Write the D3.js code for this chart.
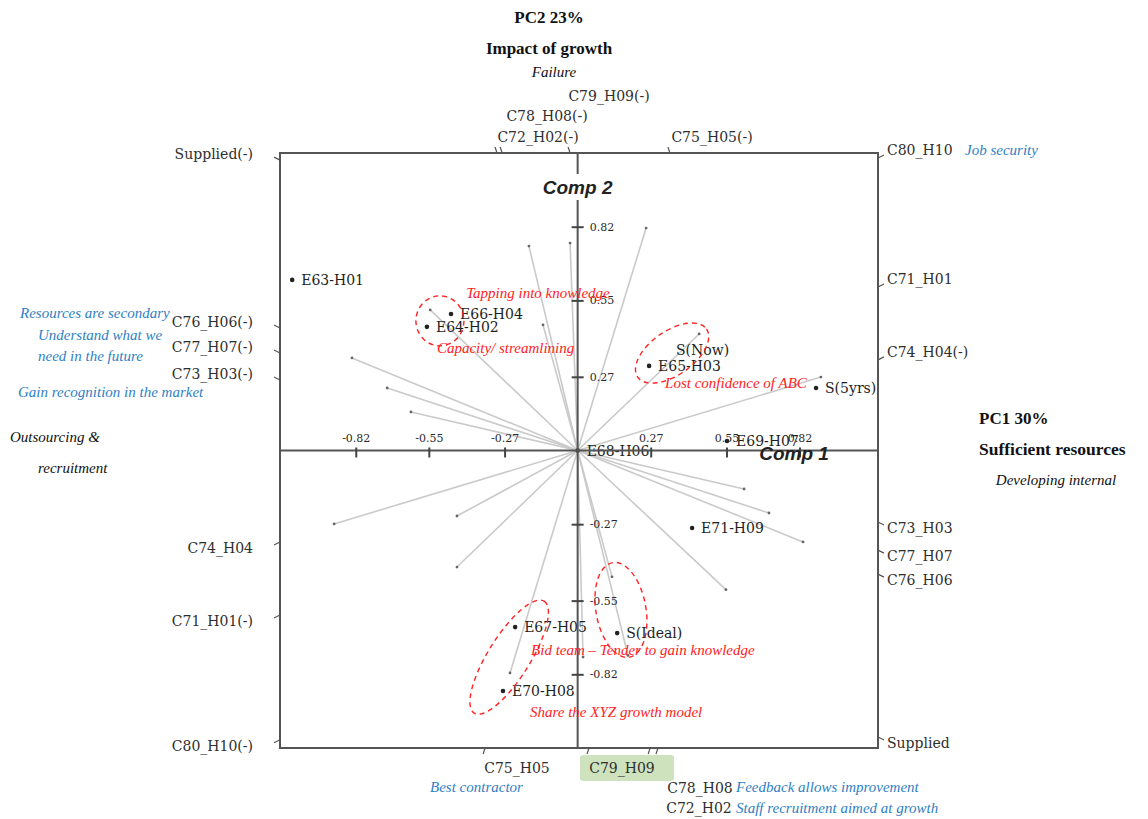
<!DOCTYPE html>
<html>
<head>
<meta charset="utf-8">
<script src="https://cdn.jsdelivr.net/npm/d3@7"></script>
<style>
  body { margin: 0; background: #fff; }
  svg { display: block; }
</style>
</head>
<body>
<div id="chart"></div>
<script>
// scores (dark dots with labels)
const scoreNames = ['E63-H01', 'E66-H04', 'E64-H02', 'S(Now)', 'E65-H03', 'S(5yrs)',
                    'E68-H06', 'E69-H07', 'E71-H09', 'E67-H05', 'S(Ideal)', 'E70-H08'];
const scoreX = [-1.055, -0.468, -0.557, 0.330, 0.264, 0.881, 0.0, 0.552, 0.423, -0.231, 0.146, -0.276];
const scoreY = [0.625, 0.500, 0.453, 0.328, 0.310, 0.229, 0.0, 0.035, -0.284, -0.647, -0.669, -0.881];

// loading vectors (grey rays from the origin)
const loadX = [-0.834, -0.704, -0.616, -0.545, -0.128, -0.180, -0.028,
               0.253, 0.449, 0.899,
               0.615, 0.707, 0.833, 0.548, 0.127, 0.020, 0.186,
               -0.900, -0.446, -0.446, -0.250];
const loadY = [0.339, 0.229, 0.141, 0.515, 0.460, 0.749, 0.760,
               0.815, 0.427, 0.269,
               -0.141, -0.229, -0.335, -0.510, -0.463, -0.757, -0.751,
               -0.269, -0.240, -0.427, -0.815];

// axis ticks
const tickValues = [-0.82, -0.55, -0.27, 0.27, 0.55, 0.82];

// variables marked on the frame edges (value where they meet the edge)
const leftVars = ['Supplied(-)', 'C76_H06(-)', 'C77_H07(-)', 'C73_H03(-)', 'C74_H04', 'C71_H01(-)', 'C80_H10(-)'];
const leftAt = [1.064, 0.449, 0.357, 0.258, -0.335, -0.603, -1.06];
const rightVars = ['C80_H10', 'C71_H01', 'C74_H04(-)', 'C73_H03', 'C77_H07', 'C76_H06', 'Supplied'];
const rightAt = [1.072, 0.599, 0.332, -0.262, -0.365, -0.453, -1.05];
const topVars = ['C72_H02(-)', 'C78_H08(-)', 'C79_H09(-)', 'C75_H05(-)'];
const topAt = [-0.298, -0.279, -0.028, 0.341];
const bottomVars = ['C75_H05', 'C79_H09', 'C78_H08', 'C72_H02'];
const bottomAt = [-0.342, 0.042, 0.268, 0.297];

// red cluster notes
const noteTexts = ['Tapping into knowledge', 'Capacity/ streamlining', 'Lost confidence of ABC',
                   'Bid team \u2013 Tender to gain knowledge', 'Share the XYZ growth model'];
const noteX = [-0.412, -0.520, 0.323, -0.172, -0.176];
const noteY = [0.577, 0.376, 0.247, -0.731, -0.958];

// dashed cluster ellipses: centre in data units
const clusterX = [-0.509, 0.349, 0.160, -0.253];
const clusterY = [0.475, 0.357, -0.584, -0.757];

// ---- layout ----
const width = 1148, height = 819;
const svg = d3.select('#chart').append('svg')
  .attr('width', width)
  .attr('height', height);

const x = d3.scaleLinear().domain([-1.1, 1.11]).range([280, 878]);
const y = d3.scaleLinear().domain([-1.09, 1.09]).range([748, 153]);

const serif = 'DejaVu Serif, serif';
const garamond = 'Liberation Serif, Times New Roman, serif';
const blue = '#2f7fc4';
const red = '#f22';
const fmt = d => d.toFixed(2);

// loadings
const rays = svg.append('g').classed('loadings', true);
rays.selectAll('line')
  .data(loadX.map((d, i) => ({x: d, y: loadY[i]})))
  .enter()
  .append('line')
  .attr('x1', x(0)).attr('y1', y(0))
  .attr('x2', d => x(d.x)).attr('y2', d => y(d.y))
  .style('stroke', '#cacaca')
  .style('stroke-width', 1.6);
rays.selectAll('circle')
  .data(loadX.map((d, i) => ({x: d, y: loadY[i]})))
  .enter()
  .append('circle')
  .attr('cx', d => x(d.x)).attr('cy', d => y(d.y))
  .attr('r', 1.4)
  .style('fill', '#666');

// scores
const scores = scoreNames.map((n, i) => ({name: n, x: scoreX[i], y: scoreY[i]}));
const sg = svg.append('g').classed('scores', true);
sg.selectAll('circle')
  .data(scores.filter(d => d.name !== 'S(Now)'))
  .enter()
  .append('circle')
  .attr('cx', d => x(d.x)).attr('cy', d => y(d.y))
  .attr('r', 2.3)
  .style('fill', '#222');
sg.selectAll('text')
  .data(scores)
  .enter()
  .append('text')
  .attr('x', d => x(d.x) + 9)
  .attr('y', d => y(d.y) + (d.name === 'S(Now)' ? -11 : 0))
  .attr('dominant-baseline', 'central')
  .style('font-family', serif)
  .style('font-size', '14px')
  .style('fill', '#1e1e1e')
  .text(d => d.name);

// frame
svg.append('rect')
  .attr('x', x(-1.1)).attr('y', y(1.09))
  .attr('width', x(1.11) - x(-1.1)).attr('height', y(-1.09) - y(1.09))
  .style('fill', 'none')
  .style('stroke', '#555')
  .style('stroke-width', 2);

// axes through the origin
svg.append('line')
  .attr('x1', x(-1.1)).attr('x2', x(1.11)).attr('y1', y(0)).attr('y2', y(0))
  .style('stroke', '#555').style('stroke-width', 2);
svg.append('line')
  .attr('x1', x(0)).attr('x2', x(0)).attr('y1', y(1.09)).attr('y2', y(-1.09))
  .style('stroke', '#555').style('stroke-width', 2);

const xAxis = svg.append('g')
  .attr('transform', `translate(0, ${y(0)})`)
  .call(d3.axisBottom(x).tickValues(tickValues).tickSize(7).tickFormat(fmt));
xAxis.select('.domain').remove();
xAxis.selectAll('.tick line').attr('y1', -3).style('stroke', '#444').style('stroke-width', 2);
xAxis.selectAll('.tick text')
  .attr('y', -9).attr('dy', 0)
  .style('font-family', serif).style('font-size', '11px').style('fill', '#2a2a2a');

const yAxis = svg.append('g')
  .attr('transform', `translate(${x(0)}, 0)`)
  .call(d3.axisRight(y).tickValues(tickValues).tickSize(6).tickFormat(fmt));
yAxis.select('.domain').remove();
yAxis.selectAll('.tick line').attr('x1', -6).style('stroke', '#444').style('stroke-width', 2);
yAxis.selectAll('.tick text')
  .attr('x', 12)
  .style('font-family', serif).style('font-size', '11px').style('fill', '#2a2a2a');

// axis titles
svg.append('rect')
  .attr('x', x(0) - 38).attr('y', 174).attr('width', 76).attr('height', 26)
  .style('fill', '#fff');
svg.append('text')
  .attr('x', x(0)).attr('y', 187)
  .attr('text-anchor', 'middle').attr('dominant-baseline', 'central')
  .style('font-family', 'Liberation Sans, Arial, sans-serif')
  .style('font-weight', 'bold').style('font-style', 'italic')
  .style('font-size', '19px').style('fill', '#222')
  .text('Comp 2');
svg.append('text')
  .attr('x', x(0.80)).attr('y', y(0) + 3)
  .attr('text-anchor', 'middle').attr('dominant-baseline', 'central')
  .style('font-family', 'Liberation Sans, Arial, sans-serif')
  .style('font-weight', 'bold').style('font-style', 'italic')
  .style('font-size', '19px').style('fill', '#222')
  .text('Comp 1');

// frame edge variables
const edge = svg.append('g').classed('edge-vars', true)
  .style('font-family', serif).style('font-size', '14px').style('fill', '#2e2e2e');
const tickStyle = s => s.style('stroke', '#555').style('stroke-width', 1.2);

leftVars.forEach((name, i) => {
  const ty = y(leftAt[i]);
  edge.append('line')
    .attr('x1', x(-1.1)).attr('y1', ty).attr('x2', x(-1.1) - 6).attr('y2', ty + (leftAt[i] > 0 ? -3 : 3))
    .call(tickStyle);
  edge.append('text')
    .attr('x', 253).attr('y', ty + (leftAt[i] > 0 ? -6 : 6))
    .attr('text-anchor', 'end').attr('dominant-baseline', 'central')
    .text(name);
});

rightVars.forEach((name, i) => {
  const ty = y(rightAt[i]);
  edge.append('line')
    .attr('x1', x(1.11)).attr('y1', ty).attr('x2', x(1.11) + 6).attr('y2', ty + (rightAt[i] > 0 ? -3 : 3))
    .call(tickStyle);
  edge.append('text')
    .attr('x', 887).attr('y', ty + (rightAt[i] > 0 ? -8 : 6))
    .attr('dominant-baseline', 'central')
    .text(name);
});

// stacked label spots above / below the frame
const topLabelPos = [[538, 137], [547, 116], [609, 96], [712, 137]];
const bottomLabelPos = [[517, 768], [622, 768], [700, 788], [699, 808]];

topVars.forEach((name, i) => {
  const tx = x(topAt[i]);
  edge.append('line')
    .attr('x1', tx).attr('y1', y(1.09)).attr('x2', tx - 2).attr('y2', y(1.09) - 6)
    .call(tickStyle);
  edge.append('text')
    .attr('x', topLabelPos[i][0]).attr('y', topLabelPos[i][1])
    .attr('text-anchor', 'middle').attr('dominant-baseline', 'central')
    .text(name);
});

edge.insert('rect', ':first-child')
  .attr('x', 580).attr('y', 755).attr('width', 94).attr('height', 26).attr('rx', 3)
  .style('fill', '#cde2bd');

bottomVars.forEach((name, i) => {
  const tx = x(bottomAt[i]);
  edge.append('line')
    .attr('x1', tx).attr('y1', y(-1.09)).attr('x2', tx - 2).attr('y2', y(-1.09) + 6)
    .call(tickStyle);
  edge.append('text')
    .attr('x', bottomLabelPos[i][0]).attr('y', bottomLabelPos[i][1])
    .attr('text-anchor', 'middle').attr('dominant-baseline', 'central')
    .text(name);
});

// dashed cluster rings (radii in px, rotation in degrees)
const ringShape = [[24, 25, 0], [42, 22, -35], [25, 48, -10], [66, 21, -58]];
svg.append('g').classed('clusters', true)
  .selectAll('ellipse')
  .data(clusterX.map((d, i) => ({x: d, y: clusterY[i], s: ringShape[i]})))
  .enter()
  .append('ellipse')
  .attr('transform', d => `translate(${x(d.x)}, ${y(d.y)}) rotate(${d.s[2]})`)
  .attr('rx', d => d.s[0]).attr('ry', d => d.s[1])
  .style('fill', 'none')
  .style('stroke', red)
  .style('stroke-width', 1.4)
  .style('stroke-dasharray', '5,4');

svg.append('g').classed('notes', true)
  .selectAll('text')
  .data(noteTexts.map((t, i) => ({t, x: noteX[i], y: noteY[i]})))
  .enter()
  .append('text')
  .attr('x', d => x(d.x)).attr('y', d => y(d.y))
  .attr('dominant-baseline', 'central')
  .style('font-family', garamond).style('font-style', 'italic')
  .style('font-size', '15px').style('fill', red)
  .text(d => d.t);

// outer annotations
function note(txt, px, py, opt) {
  const t = svg.append('text')
    .attr('x', px).attr('y', py)
    .attr('dominant-baseline', 'central')
    .attr('text-anchor', opt.anchor || 'start')
    .style('font-family', garamond)
    .style('font-size', (opt.size || 15) + 'px')
    .style('fill', opt.color || '#111')
    .text(txt);
  if (opt.bold) t.style('font-weight', 'bold');
  if (opt.italic) t.style('font-style', 'italic');
}

note('PC2 23%', 549, 17, {anchor: 'middle', bold: true, size: 17});
note('Impact of growth', 549, 48, {anchor: 'middle', bold: true, size: 17});
note('Failure', 554, 72, {anchor: 'middle', italic: true});
note('PC1 30%', 979, 418, {bold: true, size: 17});
note('Sufficient resources', 979, 449, {bold: true, size: 17.5});
note('Developing internal', 1056, 480, {anchor: 'middle', italic: true});
note('Outsourcing &', 10, 437, {italic: true});
note('recruitment', 38, 468, {italic: true});

note('Resources are secondary', 20, 313, {italic: true, color: blue});
note('Understand what we', 38, 335, {italic: true, color: blue});
note('need in the future', 38, 356, {italic: true, color: blue});
note('Gain recognition in the market', 18, 392, {italic: true, color: blue});
note('Job security', 965, 150, {italic: true, color: blue});
note('Best contractor', 430, 787, {italic: true, color: blue});
note('Feedback allows improvement', 736, 787, {italic: true, color: blue});
note('Staff recruitment aimed at growth', 736, 808, {italic: true, color: blue});
</script>
</body>
</html>
